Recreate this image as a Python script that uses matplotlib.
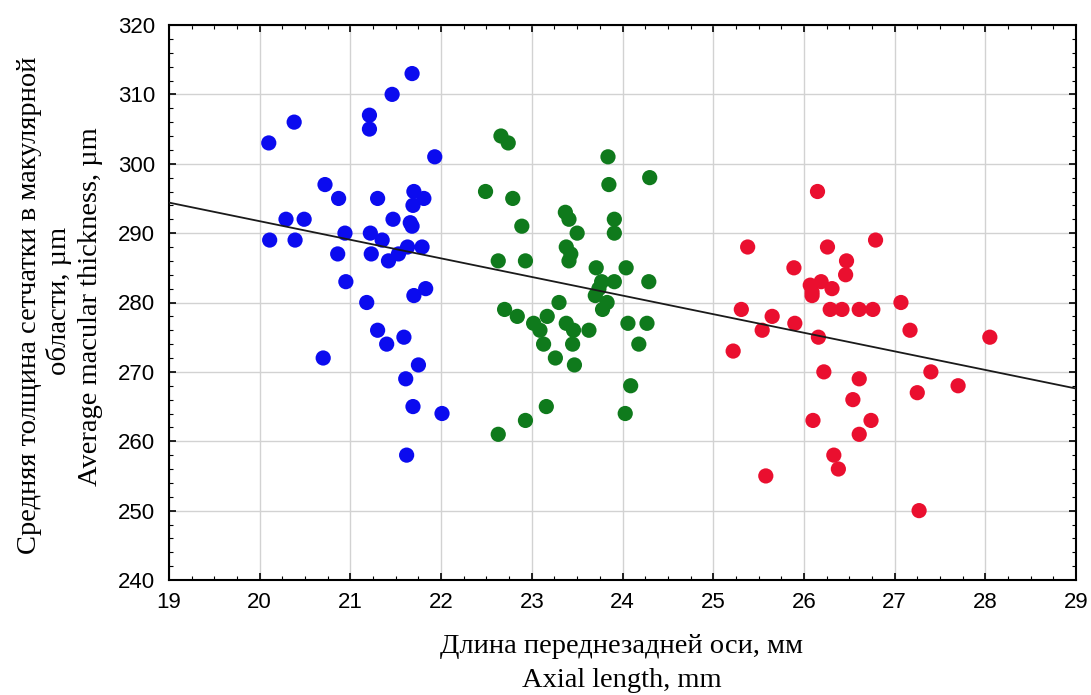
import matplotlib
matplotlib.use("Agg")
import matplotlib.pyplot as plt
from matplotlib.ticker import AutoMinorLocator
import numpy as np

# ---- data ----
blue_x = [21.68, 21.46, 21.21, 21.21, 20.38, 20.10, 21.93, 20.72, 20.87, 21.30,
          21.70, 21.81, 21.69, 20.29, 20.49, 21.47, 21.66, 21.68, 20.11, 20.39,
          20.94, 21.22, 21.35, 20.86, 21.23, 21.63, 21.79, 21.53, 21.42, 20.95,
          21.70, 21.83, 21.18, 21.30, 21.40, 21.59, 20.70, 21.75, 21.61, 21.69,
          22.01, 21.62]
blue_y = [313, 310, 307, 305, 306, 303, 301, 297, 295, 295,
          296, 295, 294, 292, 292, 292, 291.5, 291, 289, 289,
          290, 290, 289, 287, 287, 288, 288, 287, 286, 283,
          281, 282, 280, 276, 274, 275, 272, 271, 269, 265,
          264, 258]

green_x = [22.66, 22.74, 23.84, 24.30, 23.85, 22.49, 22.79, 23.37, 23.41, 22.89,
           23.91, 23.91, 23.50, 23.38, 23.43, 23.41, 22.63, 22.93, 23.71, 24.04,
           23.77, 23.91, 24.29, 23.74, 23.70, 23.83, 23.78, 23.30, 22.70, 22.84,
           23.02, 23.09, 23.17, 23.38, 23.46, 23.63, 24.06, 24.27, 23.13, 23.45,
           24.18, 23.26, 23.47, 24.09, 23.16, 24.03, 22.93, 22.63]
green_y = [304, 303, 301, 298, 297, 296, 295, 293, 292, 291,
           292, 290, 290, 288, 287, 286, 286, 286, 285, 285,
           283, 283, 283, 282, 281, 280, 279, 280, 279, 278,
           277, 276, 278, 277, 276, 276, 277, 277, 274, 274,
           274, 272, 271, 268, 265, 264, 263, 261]

red_x = [26.15, 26.79, 25.38, 26.26, 26.47, 25.89, 26.46, 26.07, 26.19, 26.09,
         26.09, 26.31, 25.31, 26.29, 26.42, 26.61, 26.76, 27.07, 25.65, 25.90,
         25.54, 27.17, 26.16, 28.05, 25.22, 26.22, 27.40, 26.61, 27.70, 27.25,
         26.54, 26.10, 26.74, 26.61, 26.33, 26.38, 25.58, 27.27]
red_y = [296, 289, 288, 288, 286, 285, 284, 282.5, 283, 281.5,
         281, 282, 279, 279, 279, 279, 279, 280, 278, 277,
         276, 276, 275, 275, 273, 270, 270, 269, 268, 267,
         266, 263, 263, 261, 258, 256, 255, 250]

# regression line: y = reg_a + reg_b * (x - 19)
reg_a = 294.4
reg_b = -2.68

x_ticks = [19, 20, 21, 22, 23, 24, 25, 26, 27, 28, 29]
y_ticks = [240, 250, 260, 270, 280, 290, 300, 310, 320]

x_label_lines = ["Длина переднезадней оси, мм", "Axial length, mm"]
y_label_lines = ["Средняя толщина сетчатки в макулярной",
                 "области, µm",
                 "Average macular thickness, µm"]

# ---- figure ----
W, H = 1091, 695
fig = plt.figure(figsize=(W / 100, H / 100), dpi=100)
ax = fig.add_axes([169 / W, 1 - 580 / H, (1076 - 169) / W, (580 - 25) / H])

ax.set_xlim(19, 29)
ax.set_ylim(240, 320)
ax.set_xticks(x_ticks)
ax.set_yticks(y_ticks)
ax.xaxis.set_minor_locator(AutoMinorLocator(4))
ax.yaxis.set_minor_locator(AutoMinorLocator(5))

ax.grid(True, which="major", color="#d2d2d2", linewidth=1.0, zorder=0)
ax.set_axisbelow(True)

ms = 120
ax.scatter(blue_x, blue_y, s=ms, color="#0b0bef", edgecolors="none", zorder=3)
ax.scatter(green_x, green_y, s=ms, color="#0f7a1c", edgecolors="none", zorder=3)
ax.scatter(red_x, red_y, s=ms, color="#ea0f2f", edgecolors="none", zorder=3)

lx = np.array([19.0, 29.0])
ax.plot(lx, reg_a + reg_b * (lx - 19), color="#1a1a1a", linewidth=1.3, zorder=4)

for s in ax.spines.values():
    s.set_linewidth(1.5)
    s.set_color("black")

ax.tick_params(which="both", direction="in", top=True, right=True, color="black")
ax.tick_params(which="major", length=5, width=1.2)
ax.tick_params(which="minor", length=3, width=0.8)
ax.tick_params(axis="y", which="major", pad=10)
ax.tick_params(axis="x", which="major", pad=9)

tick_font = dict(family=["Liberation Sans", "DejaVu Sans"], size=16)
ax.set_xticklabels([str(v) for v in x_ticks], fontdict=tick_font)
ax.set_yticklabels([str(v) for v in y_ticks], fontdict=tick_font)

label_font = ["Liberation Serif", "DejaVu Serif"]
for txt, yb in zip(x_label_lines, [653, 687]):
    fig.text(622 / W, 1 - yb / H, txt, ha="center", va="baseline",
             family=label_font, fontsize=20.5)

for txt, xb, yc in zip(y_label_lines, [36, 66, 97], [305, 301, 307]):
    fig.text(xb / W, 1 - yc / H, txt, ha="center", va="baseline", rotation=90,
             rotation_mode="anchor", family=label_font, fontsize=20.5)

fig.savefig("out.png", dpi=100, facecolor="white")
